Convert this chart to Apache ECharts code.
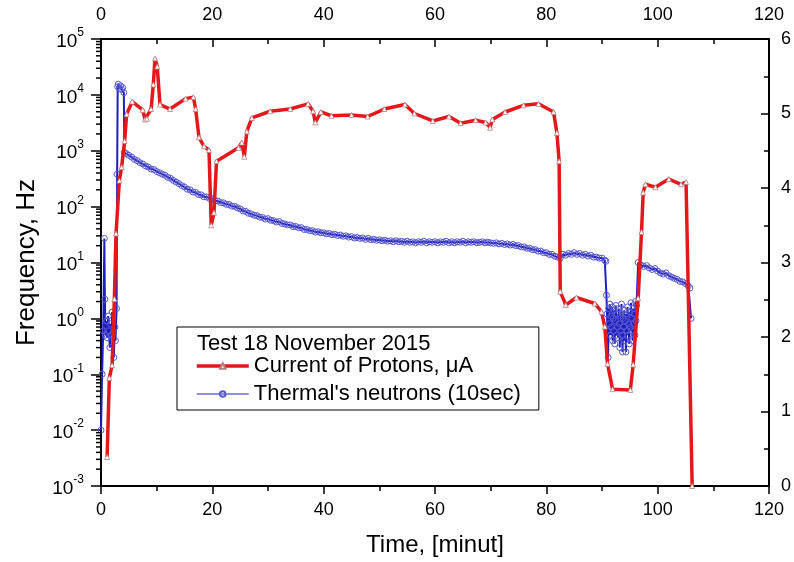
<!DOCTYPE html>
<html>
<head>
<meta charset="utf-8">
<script src="https://cdn.jsdelivr.net/npm/echarts@6/dist/echarts.min.js"></script>
<style>
html,body{margin:0;padding:0;background:#fff;}
#chart{width:794px;height:562px;}
</style>
</head>
<body>
<div id="chart"></div>
<script>
// ---------- DATA ----------
var legendTitle = 'Test 18 November 2015';
var protonName = 'Current of Protons, \u03bcA';
var neutronName = "Thermal's neutrons (10sec)";
var xTicks = [0, 20, 40, 60, 80, 100, 120];
var rightTicks = [0, 1, 2, 3, 4, 5, 6];
var logDecades = [-3, -2, -1, 0, 1, 2, 3, 4, 5];
var minorMultipliers = [2, 3, 4, 5, 6, 7, 8, 9];

var protonTime = [1.1,1.5,2.0,2.4,2.7,3.3,3.7,4.25,4.6,5.6,7.5,7.9,8.25,9.0,9.4,9.7,10.1,10.6,12.4,15.2,16.6,17.0,17.6,18.5,19.4,19.8,20.3,20.75,24.7,25.3,25.75,26.2,27.1,30.4,34.0,37.2,38.1,38.5,39.5,41.4,45.0,47.9,50.9,54.6,56.3,59.6,62.5,64.6,67.3,69.1,69.9,70.3,72.6,75.9,78.6,81.3,81.9,82.3,82.5,83.5,85.4,88.7,89.9,90.5,91.0,91.9,95.1,95.6,96.5,97.1,97.4,97.8,99.6,102.0,104.2,105.1,106.2];
var protonCurrent = [0.39,1.45,1.62,2.51,3.39,4.10,4.28,4.63,4.99,5.16,5.05,4.92,4.93,5.06,5.39,5.74,5.63,5.12,5.06,5.20,5.22,5.06,4.68,4.56,4.51,3.50,3.67,4.36,4.54,4.61,4.42,4.76,4.94,5.03,5.06,5.13,5.03,4.88,5.02,4.97,4.98,4.96,5.06,5.12,5.00,4.90,4.96,4.87,4.91,4.88,4.81,4.92,5.02,5.11,5.13,5.02,4.74,4.36,2.61,2.43,2.53,2.45,2.34,2.14,1.64,1.30,1.29,1.63,2.52,3.41,3.94,4.05,4.01,4.12,4.05,4.08,0];

var neutronTime = [0.0,0.2,0.4,0.6,0.7,0.8,1.0,1.1,1.3,1.4,1.6,1.7,1.9,2.0,2.2,2.3,2.5,2.6,2.8,2.9,3.0,3.1,3.3,3.5,3.7,3.9,4.1,4.2,
4.5,5,5.5,6,6.5,7,7.5,8,8.5,9,9.5,10,10.5,11,11.5,12,12.5,13,13.5,14,14.5,15,15.5,16,16.5,17,17.5,18,18.5,19,19.5,20,
20.5,21,21.5,22,22.5,23,23.5,24,24.5,25,25.5,26,26.5,27,27.5,28,28.5,29,29.5,30,30.5,31,31.5,32,32.5,33,33.5,34,34.5,35,
35.5,36,36.5,37,37.5,38,38.5,39,39.5,40,40.5,41,41.5,42,42.5,43,43.5,44,44.5,45,45.5,46,46.5,47,47.5,48,48.5,49,49.5,50,
50.5,51,51.5,52,52.5,53,53.5,54,54.5,55,55.5,56,56.5,57,57.5,58,58.5,59,59.5,60,60.5,61,61.5,62,62.5,63,63.5,64,64.5,65,
65.5,66,66.5,67,67.5,68,68.5,69,69.5,70,70.5,71,71.5,72,72.5,73,73.5,74,74.5,75,75.5,76,76.5,77,77.5,78,78.5,79,79.5,80,
80.5,81,81.5,82,82.5,83,83.5,84,84.5,85,85.5,86,86.5,87,87.5,88,88.5,89,89.5,90,90.5,90.7,
90.8,90.9,91.0,91.1,91.2,91.3,91.4,91.5,91.6,91.7,91.8,91.9,92.0,92.1,92.2,92.3,92.4,92.5,92.6,92.7,92.8,92.9,93.0,93.1,93.2,93.3,93.4,93.5,93.6,93.7,93.8,93.9,94.0,94.1,94.2,94.3,94.4,94.5,94.6,94.7,94.8,94.9,95.0,95.1,95.2,95.3,95.4,95.5,95.6,95.7,95.8,95.9,96.0,96.1,96.2,
96.5,97,97.5,98,98.5,99,99.5,100,100.5,101,101.5,102,102.5,103,103.5,104,104.5,105,105.5,105.8,106.0];
var neutronHz = [0.01,0.1,0.6,27,2.2,0.5,0.9,0.45,1.1,0.6,0.3,0.8,0.5,1.3,0.55,0.2,0.7,0.4,1.5,380,14000,15500,13000,14500,12500,13500,11000,930,
890,830,770,700,665,610,580,535,510,470,460,425,405,380,365,335,320,295,275,258,238,225,205,200,183,180,165,162,150,149,140,138,
128,126,118,117,110,109,102,101,95,91,84,82,76,74,70,69,65,64,60,61,57,56,53,54,50,49,47,47,44,44,
42,42,39,39,37,37,35,35.5,34,34,32.5,33,31.5,32,30.5,31,29.5,30,28.5,29,27.5,28,27,27.5,26,27,25.5,26,25,25.5,
24.5,25,24,24.5,23.5,24.5,23.5,24,23,24,23,23.5,22.5,23.5,23,24,22.5,23.5,23,23.5,22.5,23.5,23,24,22.5,23.5,22.5,23.5,23,24,
22.5,23.5,23,23.5,22.5,23,23.5,22.5,23,22.5,22,22.5,21.5,22,21,21.5,20.5,21,20,20,19,19,18,18,17,17,16,16,15,15,
14,14,13,12.5,12,14,13.5,14.5,14,15,14,14.5,13.5,14,13,13.5,12.5,12.5,12,12,11,10.5,
2.6,1.2,0.6,0.2,1.5,0.8,1.8,0.5,1.1,0.7,1.6,0.4,1.0,0.6,1.4,0.35,0.9,1.7,0.5,1.2,0.7,0.45,1.5,0.8,0.3,1.1,0.6,1.8,0.5,0.25,1.0,0.7,1.4,0.4,0.9,0.25,1.2,0.6,1.6,0.5,0.8,0.35,1.3,0.7,1.9,0.6,1.0,0.4,1.5,0.8,1.2,0.5,2.0,0.9,1.7,
10,9,8.5,8.8,8,7.5,7.8,7,6.5,6.2,6.5,5.8,5.5,5.2,5,4.6,4.5,4.2,3.8,3.5,1.0];

// ---------- BUILD ----------
var FONT = '"Liberation Sans", Arial, sans-serif';
var protonData = protonTime.map(function (t, i) { return [t, protonCurrent[i]]; });
var neutronData = neutronTime.map(function (t, i) { return [t, neutronHz[i]]; });
var minorTickData = [];
logDecades.slice(0, -1).forEach(function (d) {
  minorMultipliers.forEach(function (m) { minorTickData.push([0, m * Math.pow(10, d)]); });
});

var chart = echarts.init(document.getElementById('chart'), null, { renderer: 'canvas' });
var axisLine = { show: true, onZero: false, lineStyle: { color: '#000', width: 2 } };
var labelFont = { color: '#000', fontSize: 18, fontFamily: FONT };

chart.setOption({
  animation: false,
  backgroundColor: '#fff',
  title: {
    text: legendTitle, left: 197, top: 333, padding: 0, z: 20,
    textStyle: { color: '#000', fontSize: 22, fontWeight: 'normal', fontFamily: FONT }
  },
  legend: {
    orient: 'vertical', left: 177, top: 327,
    padding: [28, 18, 5, 18], itemGap: 6,
    itemWidth: 52, itemHeight: 7,
    borderColor: '#000', borderWidth: 1, backgroundColor: '#fff',
    data: [
      { name: protonName, lineStyle: { width: 3.5, color: '#e4171b' } },
      { name: neutronName, lineStyle: { width: 1, color: '#2424c8' } }
    ],
    textStyle: { color: '#000', fontSize: 22, fontFamily: FONT },
    z: 10
  },
  grid: { left: 101, right: 21, top: 39, bottom: 73, containLabel: false },
  xAxis: [
    {
      type: 'value', position: 'bottom', min: 0, max: 120, interval: 20,
      name: 'Time, [minut]', nameLocation: 'middle', nameGap: 47,
      nameTextStyle: { color: '#000', fontSize: 24, fontFamily: FONT },
      axisLine: axisLine,
      axisTick: { show: true, inside: false, length: 8, lineStyle: { color: '#000', width: 1.5 } },
      minorTick: { show: true, splitNumber: 2, length: 5, lineStyle: { color: '#000', width: 1.5 } },
      axisLabel: Object.assign({ margin: 15 }, labelFont),
      splitLine: { show: false }
    },
    {
      type: 'value', position: 'top', min: 0, max: 120, interval: 20,
      axisLine: axisLine,
      axisTick: { show: true, inside: true, length: 8, lineStyle: { color: '#000', width: 1.5 } },
      minorTick: { show: true, splitNumber: 2, length: 5, lineStyle: { color: '#000', width: 1.5 } },
      axisLabel: Object.assign({ margin: 15 }, labelFont),
      splitLine: { show: false }
    }
  ],
  yAxis: [
    {
      type: 'log', logBase: 10, min: 0.001, max: 100000, interval: 1,
      position: 'left',
      name: 'Frequency, Hz', nameLocation: 'middle', nameGap: 61, nameRotate: 90,
      nameTextStyle: { color: '#000', fontSize: 26, fontFamily: FONT },
      axisLine: axisLine,
      axisTick: { show: true, inside: false, length: 10, lineStyle: { color: '#000', width: 1.5 } },
      axisLabel: {
        margin: 17, color: '#000', fontFamily: FONT,
        formatter: function (v) {
          var e = Math.round(Math.log10(v));
          return '{b|10}{s|' + e + '}';
        },
        rich: {
          b: { fontSize: 19, fontFamily: FONT, color: '#000', lineHeight: 24, verticalAlign: 'bottom' },
          s: { fontSize: 12, fontFamily: FONT, color: '#000', lineHeight: 24, verticalAlign: 'top' }
        }
      },
      splitLine: { show: false }
    },
    {
      type: 'value', position: 'right', min: 0, max: 6, interval: 1,
      axisLine: axisLine,
      axisTick: { show: true, inside: true, length: 8, lineStyle: { color: '#000', width: 1.5 } },
      minorTick: { show: true, splitNumber: 2, length: 5, lineStyle: { color: '#000', width: 1.5 } },
      axisLabel: Object.assign({ margin: 12 }, labelFont),
      splitLine: { show: false }
    }
  ],
  series: [
    {
      name: neutronName, type: 'line', xAxisIndex: 0, yAxisIndex: 0,
      data: neutronData, z: 3,
      symbol: 'circle', symbolSize: 6, showAllSymbol: true,
      lineStyle: { color: '#1e1ec0', width: 2 },
      itemStyle: { color: 'rgba(255,255,255,0)', borderColor: '#5858d0', borderWidth: 1 }
    },
    {
      name: protonName, type: 'line', xAxisIndex: 0, yAxisIndex: 1,
      data: protonData, z: 4,
      symbol: 'triangle', symbolSize: 5, showAllSymbol: true,
      lineStyle: { color: '#e4171b', width: 3.5 },
      itemStyle: { color: '#fff', borderColor: '#b08080', borderWidth: 0.8 }
    },
    {
      type: 'custom', xAxisIndex: 0, yAxisIndex: 0, silent: true, clip: false, z: 5,
      data: minorTickData,
      renderItem: function (params, api) {
        var p = api.coord([api.value(0), api.value(1)]);
        return {
          type: 'line',
          shape: { x1: p[0] - 5, y1: p[1], x2: p[0], y2: p[1] },
          style: { stroke: '#000', lineWidth: 1.5 }
        };
      }
    }
  ]
});
</script>
</body>
</html>
